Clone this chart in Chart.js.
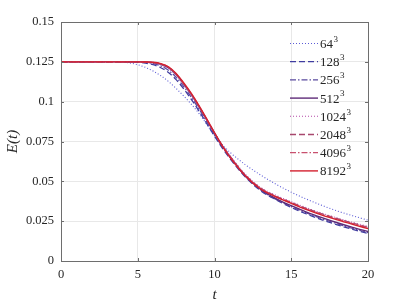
<!DOCTYPE html>
<html lang="en">
<head>
  <meta charset="UTF-8">
  <title>E(t)</title>
  <script src="https://cdn.jsdelivr.net/npm/chart.js"></script>
  <style>
    html, body { margin: 0; padding: 0; background: #fff; }
    #wrap { width: 407px; height: 306px; }
  </style>
</head>
<body>
  <div id="wrap"><canvas id="energyChart" width="407" height="306"></canvas></div>

  <script>
    // time samples
    const tValues = [0, 2, 4, 4.5, 5, 5.5, 6, 6.5, 7, 7.5, 8, 8.5, 9, 9.5, 10, 10.5, 11, 12, 13, 14, 15, 16, 17, 18, 19, 20];

    // E(t) for each resolution
    const e64   = [0.125, 0.125, 0.1248, 0.1243, 0.1232, 0.1215, 0.1192, 0.1163, 0.1127, 0.1083, 0.1035, 0.0983, 0.0925, 0.0857, 0.0787, 0.0730, 0.0683, 0.0605, 0.0540, 0.0482, 0.0432, 0.0388, 0.0349, 0.0314, 0.0284, 0.0256];
    const e128  = [0.125, 0.125, 0.125, 0.1249, 0.1247, 0.1242, 0.1232, 0.1213, 0.1183, 0.1138, 0.1080, 0.1013, 0.0940, 0.0862, 0.0784, 0.0710, 0.0644, 0.0528, 0.0442, 0.0385, 0.0336, 0.0295, 0.0258, 0.0227, 0.0198, 0.0172];
    const e256  = [0.125, 0.125, 0.125, 0.125, 0.1249, 0.1246, 0.1239, 0.1224, 0.1197, 0.1153, 0.1094, 0.1026, 0.0952, 0.0873, 0.0793, 0.0718, 0.0651, 0.0532, 0.0446, 0.0387, 0.0341, 0.0301, 0.0265, 0.0233, 0.0204, 0.0178];
    const e512  = [0.125, 0.125, 0.125, 0.125, 0.125, 0.1249, 0.1245, 0.1235, 0.1213, 0.1170, 0.1110, 0.1042, 0.0966, 0.0885, 0.0802, 0.0724, 0.0656, 0.0535, 0.0450, 0.0392, 0.0347, 0.0307, 0.0272, 0.0240, 0.0211, 0.0185];
    const e1024 = [0.125, 0.125, 0.125, 0.125, 0.1249, 0.1247, 0.1242, 0.1231, 0.1208, 0.1165, 0.1106, 0.1039, 0.0964, 0.0884, 0.0803, 0.0728, 0.0663, 0.0545, 0.0462, 0.0412, 0.0372, 0.0334, 0.0300, 0.0270, 0.0242, 0.0218];
    const e2048 = [0.125, 0.125, 0.125, 0.125, 0.125, 0.1249, 0.1245, 0.1236, 0.1215, 0.1172, 0.1112, 0.1045, 0.0969, 0.0888, 0.0805, 0.0727, 0.0659, 0.0541, 0.0458, 0.0407, 0.0367, 0.0329, 0.0296, 0.0266, 0.0238, 0.0212];
    const e4096 = [0.125, 0.125, 0.125, 0.125, 0.125, 0.1249, 0.1246, 0.1238, 0.1217, 0.1174, 0.1114, 0.1047, 0.0971, 0.0889, 0.0805, 0.0726, 0.0657, 0.0539, 0.0456, 0.0404, 0.0365, 0.0326, 0.0293, 0.0263, 0.0235, 0.0209];
    const e8192 = [0.125, 0.125, 0.125, 0.125, 0.125, 0.1249, 0.1247, 0.1239, 0.1219, 0.1177, 0.1117, 0.1050, 0.0973, 0.0890, 0.0805, 0.0722, 0.0652, 0.0535, 0.0452, 0.0403, 0.0362, 0.0322, 0.0288, 0.0258, 0.0230, 0.0203];

    const resolutions = ["64", "128", "256", "512", "1024", "2048", "4096", "8192"];
    const xTicks = [0, 5, 10, 15, 20];
    const yTicks = [0, 0.025, 0.05, 0.075, 0.1, 0.125, 0.15];
    const yTickLabels = ["0", "0.025", "0.05", "0.075", "0.1", "0.125", "0.15"];

    const series = [e64, e128, e256, e512, e1024, e2048, e4096, e8192];
    const colors = ["#5b5bd6", "#3f3ca0", "#5a4a9e", "#5e2a78", "#b54aa8", "#a8486e", "#c8506e", "#d4212f"];
    const dashes = [[1, 2], [6, 3], [6, 2, 1.5, 2], [], [1, 2], [6, 3], [6, 2, 1.5, 2], []];
    const widths = [1.1, 1.3, 1.2, 1.4, 1.1, 1.3, 1.2, 1.4];

    const SERIF = "'Liberation Serif', 'DejaVu Serif', serif";
    const TXT = "#262626";

    const datasets = series.map((vals, i) => ({
      label: resolutions[i],
      data: tValues.map((t, j) => ({ x: t, y: vals[j] })),
      borderColor: colors[i],
      borderDash: dashes[i],
      borderWidth: widths[i],
      pointRadius: 0,
      fill: false,
      cubicInterpolationMode: 'monotone',
      order: series.length - i
    }));

    // box, inward ticks and legend drawn over the plot
    const extras = {
      id: 'extras',
      afterDraw(chart) {
        const { ctx, chartArea: a, scales } = chart;
        ctx.save();
        ctx.strokeStyle = "#6e6e6e";
        ctx.lineWidth = 1;
        ctx.setLineDash([]);
        ctx.beginPath();
        xTicks.forEach(v => {
          const px = Math.round(scales.x.getPixelForValue(v)) + 0.5;
          ctx.moveTo(px, a.bottom); ctx.lineTo(px, a.bottom - 3);
          ctx.moveTo(px, a.top); ctx.lineTo(px, a.top + 3);
        });
        yTicks.forEach(v => {
          const py = Math.round(scales.y.getPixelForValue(v)) + 0.5;
          ctx.moveTo(a.left, py); ctx.lineTo(a.left + 3, py);
          ctx.moveTo(a.right, py); ctx.lineTo(a.right - 3, py);
        });
        ctx.stroke();
        ctx.strokeRect(Math.round(a.left) + 0.5, Math.round(a.top) + 0.5,
                       Math.round(a.right - a.left), Math.round(a.bottom - a.top));

        // legend
        const lx0 = 290, lx1 = 318, ty0 = 43.5, dy = 18.2;
        chart.data.datasets.forEach((ds, i) => {
          const y = ty0 + i * dy;
          ctx.strokeStyle = ds.borderColor;
          ctx.lineWidth = ds.borderWidth;
          ctx.setLineDash(ds.borderDash);
          ctx.beginPath();
          ctx.moveTo(lx0, y); ctx.lineTo(lx1, y);
          ctx.stroke();
          ctx.setLineDash([]);
          ctx.fillStyle = TXT;
          ctx.textBaseline = 'middle';
          ctx.textAlign = 'left';
          ctx.font = "13px " + SERIF;
          ctx.fillText(ds.label, 320, y + 1);
          const w = ctx.measureText(ds.label).width;
          ctx.font = "9px " + SERIF;
          ctx.fillText("3", 320 + w + 0.5, y - 4);
        });
        ctx.restore();
      }
    };

    new Chart(document.getElementById("energyChart").getContext("2d"), {
      type: 'line',
      data: { datasets },
      plugins: [extras],
      options: {
        responsive: false,
        animation: false,
        layout: { padding: { left: 0, right: 39, top: 22, bottom: 0 } },
        plugins: { legend: { display: false }, tooltip: { enabled: false } },
        scales: {
          x: {
            type: 'linear',
            min: 0, max: 20,
            afterFit: s => { s.height = 45; },
            afterBuildTicks: s => { s.ticks = xTicks.map(v => ({ value: v })); },
            grid: { color: "#e8e8e8", drawTicks: false },
            border: { color: "#6e6e6e" },
            ticks: { color: TXT, font: { family: SERIF, size: 12.5 }, padding: 6, maxRotation: 0,
                     callback: v => String(v) },
            title: { display: true, text: "t", color: TXT, padding: { top: 0, bottom: 3 },
                     font: { family: SERIF, size: 15, style: 'italic', lineHeight: 1 } }
          },
          y: {
            type: 'linear',
            min: 0, max: 0.15,
            afterFit: s => { s.width = 61; },
            afterBuildTicks: s => { s.ticks = yTicks.map(v => ({ value: v })); },
            grid: { color: "#e8e8e8", drawTicks: false },
            border: { color: "#6e6e6e" },
            ticks: { color: TXT, font: { family: SERIF, size: 12.5 }, padding: 7,
                     callback: v => yTickLabels[yTicks.findIndex(t => Math.abs(t - v) < 1e-9)] },
            title: { display: true, text: "E(t)", color: TXT, padding: { top: 6, bottom: 0 },
                     font: { family: SERIF, size: 15, style: 'italic', lineHeight: 1 } }
          }
        }
      }
    });
  </script>
</body>
</html>
